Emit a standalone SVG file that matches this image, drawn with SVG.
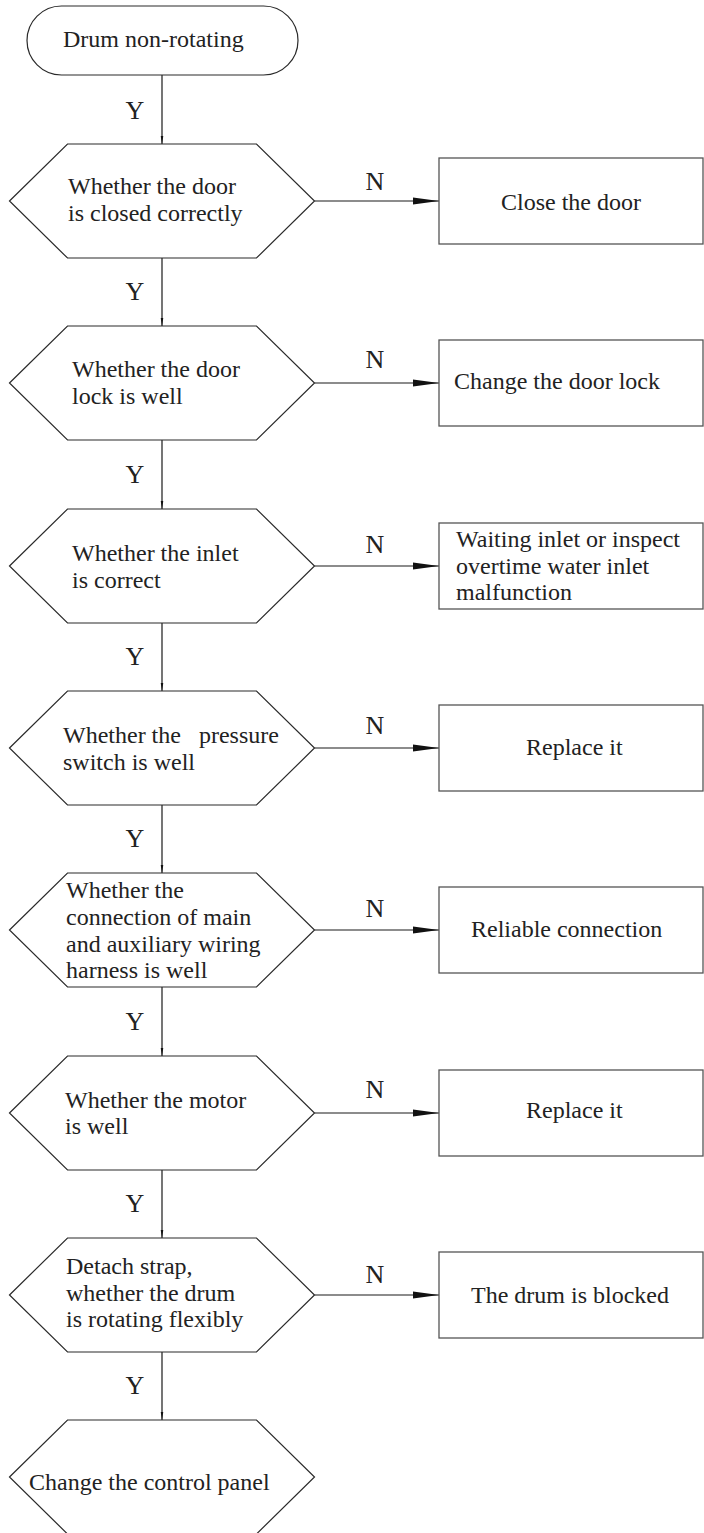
<svg xmlns="http://www.w3.org/2000/svg" width="704" height="1533" viewBox="0 0 704 1533">
  <style>
    .shape { fill: #fff; stroke: #2a2a2a; stroke-width: 1.2; }
    .box { fill: #fff; stroke: #555; stroke-width: 1.3; }
    .line { fill: none; stroke: #1a1a1a; stroke-width: 1.2; }
    .t { font-family: "Liberation Serif", "Times New Roman", serif; font-size: 24px; fill: #222; white-space: pre; }
    .lbl { font-family: "Liberation Serif", "Times New Roman", serif; font-size: 26px; fill: #222; text-anchor: middle; }
  </style>
  <defs>
    <marker id="arrowV" markerUnits="userSpaceOnUse" markerWidth="8" markerHeight="20" refX="19" refY="3" orient="auto" viewBox="0 0 19 6">
      <path d="M0,0 L19,3 L0,6 Z" fill="#111"/>
    </marker>
    <marker id="arrowH" markerUnits="userSpaceOnUse" markerWidth="26" markerHeight="8" refX="26" refY="3.5" orient="auto" viewBox="0 0 26 7">
      <path d="M0,0 L26,3.5 L0,7 Z" fill="#111"/>
    </marker>
  </defs>

  <!-- connectors -->
  <g id="connectors">
    <line class="line" x1="162" y1="75" x2="162" y2="144" marker-end="url(#arrowV)"/>
    <line class="line" x1="162" y1="258" x2="162" y2="326" marker-end="url(#arrowV)"/>
    <line class="line" x1="162" y1="440" x2="162" y2="509" marker-end="url(#arrowV)"/>
    <line class="line" x1="162" y1="623" x2="162" y2="691" marker-end="url(#arrowV)"/>
    <line class="line" x1="162" y1="805" x2="162" y2="873" marker-end="url(#arrowV)"/>
    <line class="line" x1="162" y1="987" x2="162" y2="1056" marker-end="url(#arrowV)"/>
    <line class="line" x1="162" y1="1170" x2="162" y2="1238" marker-end="url(#arrowV)"/>
    <line class="line" x1="162" y1="1352" x2="162" y2="1420" marker-end="url(#arrowV)"/>

    <line class="line" x1="314.5" y1="201" x2="439" y2="201" marker-end="url(#arrowH)"/>
    <line class="line" x1="314.5" y1="383" x2="439" y2="383" marker-end="url(#arrowH)"/>
    <line class="line" x1="314.5" y1="566" x2="439" y2="566" marker-end="url(#arrowH)"/>
    <line class="line" x1="314.5" y1="748" x2="439" y2="748" marker-end="url(#arrowH)"/>
    <line class="line" x1="314.5" y1="930" x2="439" y2="930" marker-end="url(#arrowH)"/>
    <line class="line" x1="314.5" y1="1113" x2="439" y2="1113" marker-end="url(#arrowH)"/>
    <line class="line" x1="314.5" y1="1295" x2="439" y2="1295" marker-end="url(#arrowH)"/>

    <text class="lbl" x="135" y="119">Y</text>
    <text class="lbl" x="135" y="300">Y</text>
    <text class="lbl" x="135" y="483">Y</text>
    <text class="lbl" x="135" y="665">Y</text>
    <text class="lbl" x="135" y="847">Y</text>
    <text class="lbl" x="135" y="1030">Y</text>
    <text class="lbl" x="135" y="1212">Y</text>
    <text class="lbl" x="135" y="1394">Y</text>

    <text class="lbl" x="375" y="190">N</text>
    <text class="lbl" x="375" y="368">N</text>
    <text class="lbl" x="375" y="553">N</text>
    <text class="lbl" x="375" y="734">N</text>
    <text class="lbl" x="375" y="917">N</text>
    <text class="lbl" x="375" y="1098">N</text>
    <text class="lbl" x="375" y="1283">N</text>
  </g>

  <!-- start -->
  <g id="start">
    <rect class="shape" x="27" y="6" width="271" height="69" rx="34.5" ry="34.5"/>
    <text class="t" x="63" y="47">Drum non-rotating</text>
  </g>

  <!-- decisions -->
  <g id="q-door-closed">
    <polygon class="shape" points="9.5,201 67.5,144 256.5,144 314.5,201 256.5,258 67.5,258"/>
    <text class="t" x="68" y="194">Whether the door</text>
    <text class="t" x="68" y="221">is closed correctly</text>
  </g>
  <g id="q-door-lock">
    <polygon class="shape" points="9.5,383 67.5,326 256.5,326 314.5,383 256.5,440 67.5,440"/>
    <text class="t" x="72" y="377">Whether the door</text>
    <text class="t" x="72" y="404">lock is well</text>
  </g>
  <g id="q-inlet">
    <polygon class="shape" points="9.5,566 67.5,509 256.5,509 314.5,566 256.5,623 67.5,623"/>
    <text class="t" x="72" y="561">Whether the inlet</text>
    <text class="t" x="72" y="588">is correct</text>
  </g>
  <g id="q-pressure">
    <polygon class="shape" points="9.5,748 67.5,691 256.5,691 314.5,748 256.5,805 67.5,805"/>
    <text class="t" x="63" y="743">Whether the   pressure</text>
    <text class="t" x="63" y="770">switch is well</text>
  </g>
  <g id="q-harness">
    <polygon class="shape" points="9.5,930 67.5,873 256.5,873 314.5,930 256.5,987 67.5,987"/>
    <text class="t" x="66" y="898">Whether the</text>
    <text class="t" x="66" y="925">connection of main</text>
    <text class="t" x="66" y="952">and auxiliary wiring</text>
    <text class="t" x="66" y="978">harness is well</text>
  </g>
  <g id="q-motor">
    <polygon class="shape" points="9.5,1113 67.5,1056 256.5,1056 314.5,1113 256.5,1170 67.5,1170"/>
    <text class="t" x="65" y="1108">Whether the motor</text>
    <text class="t" x="65" y="1134">is well</text>
  </g>
  <g id="q-drum">
    <polygon class="shape" points="9.5,1295 67.5,1238 256.5,1238 314.5,1295 256.5,1352 67.5,1352"/>
    <text class="t" x="66" y="1274">Detach strap,</text>
    <text class="t" x="66" y="1301">whether the drum</text>
    <text class="t" x="66" y="1327">is rotating flexibly</text>
  </g>
  <g id="end-control-panel">
    <polygon class="shape" points="9.5,1477 67.5,1420 256.5,1420 314.5,1477 256.5,1534 67.5,1534"/>
    <text class="t" x="29" y="1490">Change the control panel</text>
  </g>

  <!-- actions -->
  <g id="a-close-door">
    <rect class="box" x="439" y="158" width="264" height="86"/>
    <text class="t" x="501" y="210">Close the door</text>
  </g>
  <g id="a-door-lock">
    <rect class="box" x="439" y="340" width="264" height="86"/>
    <text class="t" x="454" y="389">Change the door lock</text>
  </g>
  <g id="a-inlet">
    <rect class="box" x="439" y="523" width="264" height="86"/>
    <text class="t" x="456" y="547">Waiting inlet or inspect</text>
    <text class="t" x="456" y="574">overtime water inlet</text>
    <text class="t" x="456" y="600">malfunction</text>
  </g>
  <g id="a-pressure">
    <rect class="box" x="439" y="705" width="264" height="86"/>
    <text class="t" x="526" y="755">Replace it</text>
  </g>
  <g id="a-harness">
    <rect class="box" x="439" y="887" width="264" height="86"/>
    <text class="t" x="471" y="937">Reliable connection</text>
  </g>
  <g id="a-motor">
    <rect class="box" x="439" y="1070" width="264" height="86"/>
    <text class="t" x="526" y="1118">Replace it</text>
  </g>
  <g id="a-drum">
    <rect class="box" x="439" y="1252" width="264" height="86"/>
    <text class="t" x="471" y="1303">The drum is blocked</text>
  </g>
</svg>
